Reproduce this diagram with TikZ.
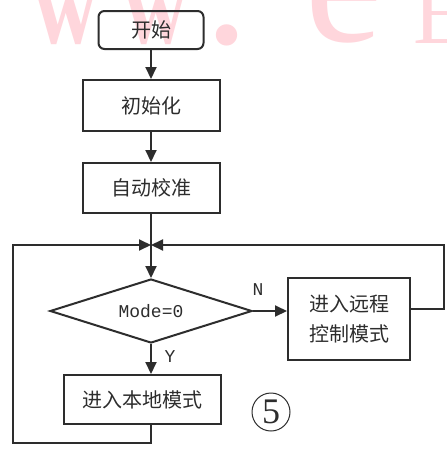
\documentclass[tikz,border=0pt]{standalone}
\usepackage{fontspec}
\setmainfont{Liberation Serif}
\newfontfamily\cjk{Noto Sans CJK SC}
\newfontfamily\monof{Liberation Mono}
\usetikzlibrary{shapes.geometric,arrows.meta}
\definecolor{wm}{RGB}{255,214,220}
\definecolor{ink}{RGB}{45,45,45}
\begin{document}
\begin{tikzpicture}[x=0.5pt,y=-0.5pt,
  box/.style={draw=ink, line width=1pt, inner sep=0pt, text=ink,
    font=\cjk\fontsize{10}{15}\selectfont, align=center},
  arr/.style={draw=ink, line width=1pt, -{Triangle[length=6pt,width=5.5pt]}},
  ln/.style={draw=ink, line width=1pt},
  lbl/.style={text=ink, font=\monof\fontsize{9}{10}\selectfont, inner sep=0pt},
  wmk/.style={text=wm, inner sep=0pt, anchor=base west}
]
\useasboundingbox (0,0) rectangle (446,450);
\fill[white] (0,0) rectangle (446,450);
% watermark
\begin{scope}
\clip (0,0) rectangle (446,450);
\node[wmk, font=\bfseries\fontsize{45}{45}\selectfont] (w1) at (33,43) {\scalebox{1}[1.35]{w}};
\node[wmk, font=\bfseries\fontsize{45}{45}\selectfont] (w2) at (123,43) {\scalebox{1}[1.35]{w}};
\node[wmk, font=\fontsize{90}{90}\selectfont] (dot) at (204,43) {.};
\node[wmk, font=\fontsize{87}{87}\selectfont] (e) at (305,41) {e};
\node[wmk, font=\fontsize{45}{45}\selectfont] (E) at (413,43) {E};
\end{scope}
% nodes
\node[box, rounded corners=3pt, minimum width=52.5pt, minimum height=19pt] (start) at (151,30) {开始};
\node[box, minimum width=68.5pt, minimum height=25.5pt] (init) at (151,105.5) {初始化};
\node[box, minimum width=68.5pt, minimum height=25pt] (calib) at (151,188) {自动校准};
\coordinate (J) at (151,245);
\node[box, diamond, minimum width=101pt, minimum height=32pt, aspect=3.16,
  font=\monof\fontsize{9}{10}\selectfont] (mode) at (151,311) {Mode=0};
\node[box, minimum width=61pt, minimum height=41pt] (remote) at (349,319) {进入远程\\控制模式};
\node[box, minimum width=78.5pt, minimum height=24.5pt] (local) at (142.5,399.5) {进入本地模式};
\node[lbl] (N) at (258,290) {N};
\node[lbl] (Y) at (170,357) {Y};
\node[draw=ink, circle, line width=0.5pt, minimum size=19pt, inner sep=0pt, text=ink,
  font=\fontsize{18}{18}\selectfont] (five) at (271,412) {5};
% connectors
\draw[arr] (start) -- (init);
\draw[arr] (init) -- (calib);
\draw[ln] (calib) -- (J);
\draw[arr] (J) -- (mode.north);
\draw[arr] (mode.east) -- (mode.east -| remote.west);
\draw[arr] (mode.south) -- (mode.south |- local.north);
\draw[arr] ([yshift=5pt]remote.east) -- ++(33,0) |- (J);
\draw[arr] (mode.south |- local.south) -- ++(0,18) -- ++(-138,0) |- (J);
\end{tikzpicture}
\end{document}
